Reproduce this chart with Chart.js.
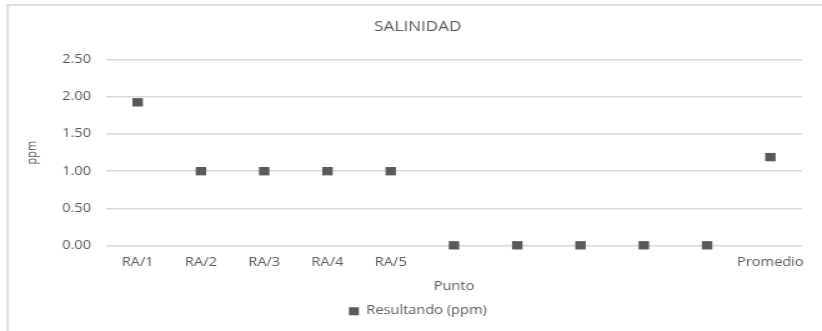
<!DOCTYPE html>
<html>
<head>
<meta charset="utf-8">
<title>SALINIDAD</title>
<script src="https://cdn.jsdelivr.net/npm/chart.js@4/dist/chart.umd.min.js"></script>
<style>
  html, body { margin: 0; padding: 0; background: #ffffff; overflow: hidden; }
  #wrap { width: 822px; height: 331px; overflow: hidden; position: relative; }
  /* the chart is laid out on a narrower canvas and widened horizontally */
  #chart { display: block; transform-origin: 0 0; transform: scaleX(1.2492); }
</style>
</head>
<body>
<div id="wrap"><canvas id="chart" width="658" height="331"></canvas></div>
<script>
// Sampling points and measured salinity (ppm)
const categories = ['RA/1', 'RA/2', 'RA/3', 'RA/4', 'RA/5', '', '', '', '', '', 'Promedio'];
const resultado = [1.93, 1.00, 1.00, 1.00, 1.00, 0.00, 0.00, 0.00, 0.00, 0.00, 1.19];
const yTickValues = [0, 0.5, 1, 1.5, 2, 2.5];

const seriesLabel = 'Resultando (ppm)';
const chartTitle = 'SALINIDAD';
const xTitle = 'Punto';
const yTitle = 'ppm';

const textColor = '#595959';
const gridColor = '#d9d9d9';
const markColor = '#595959';
const family = "'Open Sans', 'Liberation Sans', sans-serif";
const smallFont = { family: family, size: 11.7, weight: 'normal' };

// light frame along the top and left edges
const framePlugin = {
  id: 'frame',
  beforeDraw(chart) {
    const ctx = chart.ctx;
    ctx.save();
    ctx.fillStyle = '#ffffff';
    ctx.fillRect(0, 0, chart.width, chart.height);
    ctx.strokeStyle = '#dcdcdc';
    ctx.lineWidth = 1.8;
    ctx.beginPath();
    ctx.moveTo(6, chart.height + 2);
    ctx.lineTo(6, 5);
    ctx.lineTo(chart.width + 2, 5);
    ctx.stroke();
    ctx.restore();
  }
};

new Chart(document.getElementById('chart'), {
  type: 'line',
  data: {
    labels: categories,
    datasets: [{
      label: seriesLabel,
      data: resultado,
      showLine: false,
      clip: false,
      pointStyle: 'rect',
      pointRadius: 5.9,
      pointHoverRadius: 5.9,
      backgroundColor: markColor,
      borderColor: markColor,
      borderWidth: 0
    }]
  },
  options: {
    responsive: false,
    animation: false,
    devicePixelRatio: 1,
    events: [],
    layout: { padding: { left: 27, right: 16, top: 0, bottom: 4 } },
    plugins: {
      title: {
        display: true,
        text: chartTitle,
        color: textColor,
        font: { family: family, size: 13.7, weight: 'normal' },
        padding: { top: 18.8, bottom: 24.8 }
      },
      legend: {
        position: 'bottom',
        labels: {
          boxWidth: 8,
          boxHeight: 8,
          color: textColor,
          font: smallFont,
          padding: 10
        }
      },
      tooltip: { enabled: false }
    },
    scales: {
      x: {
        offset: true,
        grid: { display: false, drawTicks: false },
        border: { display: false },
        ticks: {
          color: textColor,
          font: smallFont,
          padding: 10,
          autoSkip: false,
          maxRotation: 0
        },
        title: {
          display: true,
          text: xTitle,
          color: textColor,
          font: smallFont,
          padding: { top: 0, bottom: 2 }
        },
        afterFit(scale) { scale.height = 50; }
      },
      y: {
        min: 0,
        max: 2.5,
        afterBuildTicks(scale) {
          scale.ticks = yTickValues.map(v => ({ value: v }));
        },
        ticks: {
          color: textColor,
          font: smallFont,
          padding: 12,
          callback: v => Number(v).toFixed(2)
        },
        grid: { color: gridColor, lineWidth: 1.4, drawTicks: false },
        border: { display: false },
        title: {
          display: true,
          text: yTitle,
          color: textColor,
          font: { family: family, size: 11, weight: 'normal' },
          padding: { top: -8, bottom: 0 }
        },
        afterFit(scale) { scale.width = 57.85; }
      }
    }
  },
  plugins: [framePlugin]
});
</script>
</body>
</html>
